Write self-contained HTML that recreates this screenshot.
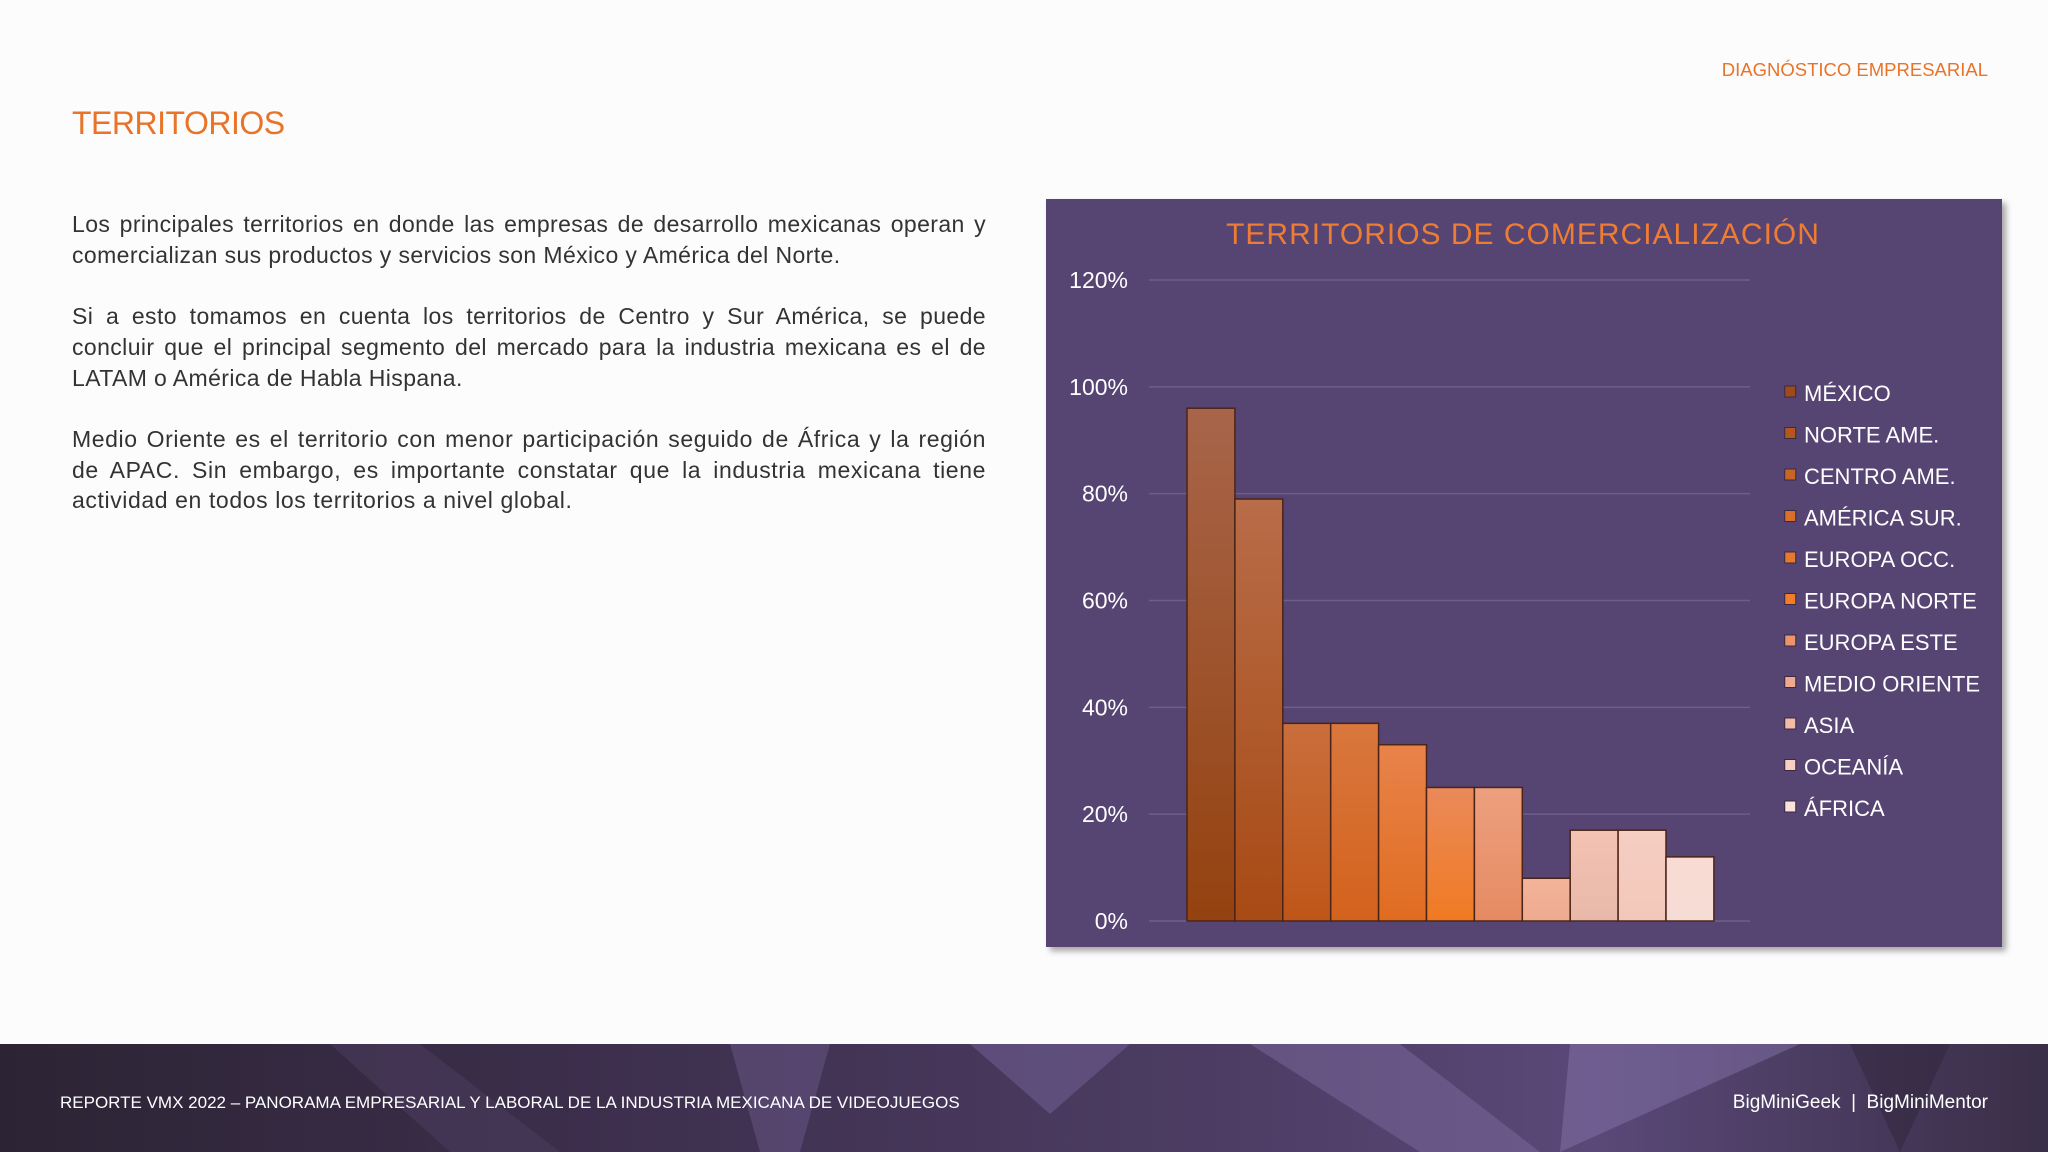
<!DOCTYPE html>
<html><head><meta charset="utf-8">
<style>
html,body{margin:0;padding:0;}
body{width:2048px;height:1152px;position:relative;overflow:hidden;background:#fdfcfc;font-family:"Liberation Sans",sans-serif;}
.hdr{position:absolute;right:60px;top:59px;color:#e8742a;font-size:18.5px;}
h1{position:absolute;left:72px;top:105px;margin:0;color:#e8742a;font-size:32px;font-weight:normal;letter-spacing:-0.5px;}
.txt{position:absolute;left:72px;top:209px;width:914px;color:#333;font-size:23px;line-height:30.7px;text-align:justify;letter-spacing:0.4px;}
.txt p{margin:0 0 30.7px 0;}
.txt p.p3{letter-spacing:0.6px;}
.footer{position:absolute;left:0;top:1044px;width:2048px;height:108px;background:linear-gradient(90deg,#2c2434 0%,#3d2f4d 30%,#4d3d64 60%,#5a4878 78%,#3a2f48 100%);overflow:hidden;}
.footer .l{position:absolute;left:60px;top:49px;color:#fff;font-size:17px;}
.footer .r{position:absolute;right:60px;top:48px;color:#fff;font-size:19px;}
#chart{position:absolute;left:1046px;top:199px;box-shadow:4px 4px 6px rgba(0,0,0,0.35);}
</style></head><body>
<div class="hdr">DIAGNÓSTICO EMPRESARIAL</div>
<h1>TERRITORIOS</h1>
<div class="txt">
<p>Los principales territorios en donde las empresas de desarrollo mexicanas operan y comercializan sus productos y servicios son México y América del Norte.</p>
<p>Si a esto tomamos en cuenta los territorios de Centro y Sur América, se puede concluir que el principal segmento del mercado para la industria mexicana es el de LATAM o América de Habla Hispana.</p>
<p class="p3">Medio Oriente es el territorio con menor participación seguido de África y la región de APAC. Sin embargo, es importante constatar que la industria mexicana tiene actividad en todos los territorios a nivel global.</p>
</div>
<div class="footer">
<svg width="2048" height="108" style="position:absolute;left:0;top:0">
<polygon points="330,0 420,0 560,108 450,108" fill="#4a3b5c" opacity="0.6"/>
<polygon points="730,0 830,0 800,108 760,108" fill="#6a5888" opacity="0.5"/>
<polygon points="970,0 1130,0 1050,70" fill="#7a68a0" opacity="0.45"/>
<polygon points="1250,0 1400,0 1540,108 1420,108" fill="#7b6a9e" opacity="0.5"/>
<polygon points="1570,0 1800,0 1560,108" fill="#8a78b0" opacity="0.45"/>
<polygon points="1850,0 1950,0 1900,108" fill="#2a2034" opacity="0.4"/>
</svg>
<div class="l">REPORTE VMX 2022 – PANORAMA EMPRESARIAL Y LABORAL DE LA INDUSTRIA MEXICANA DE VIDEOJUEGOS</div>
<div class="r">BigMiniGeek &nbsp;|&nbsp; BigMiniMentor</div>
</div>
<svg id="chart" width="956" height="748"></svg>
<script>
const categories=["MÉXICO","NORTE AME.","CENTRO AME.","AMÉRICA SUR.","EUROPA OCC.","EUROPA NORTE","EUROPA ESTE","MEDIO ORIENTE","ASIA","OCEANÍA","ÁFRICA"];
const values=[96,79,37,37,33,25,25,8,17,17,12];
const ticks=[0,20,40,60,80,100,120];
const colorsTop=["#a8654a","#b86c48","#c96e3c","#d9773e","#e8834a","#ea8a5a","#eda07e","#f2b49c","#f4c2b2","#f6cec2","#f8dcd4"];
const colorsBot=["#94420f","#a84a14","#bf5618","#d3621c","#e06c20","#f07a22","#e68a62","#eeaa8e","#e8b8a8","#f2c8ba","#f5dcd4"];
const legendColors=["#a04a1a","#b5561f","#c86424","#d96f2a","#e8782e","#f07d2c","#ec946c","#f0a890","#f2bca8","#f5cfc2","#f8e2da"];
const NS="http://www.w3.org/2000/svg";
const svg=document.getElementById('chart');
function mk(t,a,p){const e=document.createElementNS(NS,t);for(const k in a)e.setAttribute(k,a[k]);(p||svg).appendChild(e);return e;}
const W=956,H=748;
const x0=1149-1046,x1=1750-1046,yTop=280-199,yBot=921-199;
const yMax=120;
function yScale(v){return yBot-(v/yMax)*(yBot-yTop);}
const plotL=1187-1046,bw=47.9;
function xScale(i){return plotL+i*bw;}
const defs=mk('defs',{});
const bg=mk('rect',{x:0,y:0,width:W,height:H,fill:'#564473'});


const title=mk('text',{x:477,y:45,'text-anchor':'middle','font-size':30,fill:'#ee7c33','letter-spacing':'1'});
title.textContent='TERRITORIOS DE COMERCIALIZACIÓN';


ticks.forEach(t=>{
  const y=yScale(t);
  const g=mk('line',{x1:x0,x2:x1,y1:y,y2:y,stroke:'#6d5e8a','stroke-width':1.5});
  
  
  const l=mk('text',{x:82,y:y+8,'text-anchor':'end','font-size':23,fill:'#ffffff'});
  l.textContent=t+'%';
  
  
});
values.forEach((v,i)=>{
  const gr=mk('linearGradient',{id:'g'+i,x1:0,y1:0,x2:0,y2:1},defs);
  mk('stop',{offset:'0',"stop-color":colorsTop[i]},gr);
  mk('stop',{offset:'1',"stop-color":colorsBot[i]},gr);
  const y=yScale(v);
  const r=mk('rect',{x:xScale(i),y:y,width:bw,height:yBot-y,fill:'url(#g'+i+')',stroke:'#4a2418','stroke-width':1.5});
  
  
});
categories.forEach((c,i)=>{
  const y=392-199+i*41.5;
  const s=mk('rect',{x:1368*1.3061-1046-2,y:y-6,width:11,height:11,fill:legendColors[i],stroke:'#3a2a40','stroke-width':1});
  
  
  const t=mk('text',{x:1804-1046,y:y+9,'font-size':22,fill:'#ffffff'});
  t.textContent=c;
  
  
});
</script>
</body></html>
